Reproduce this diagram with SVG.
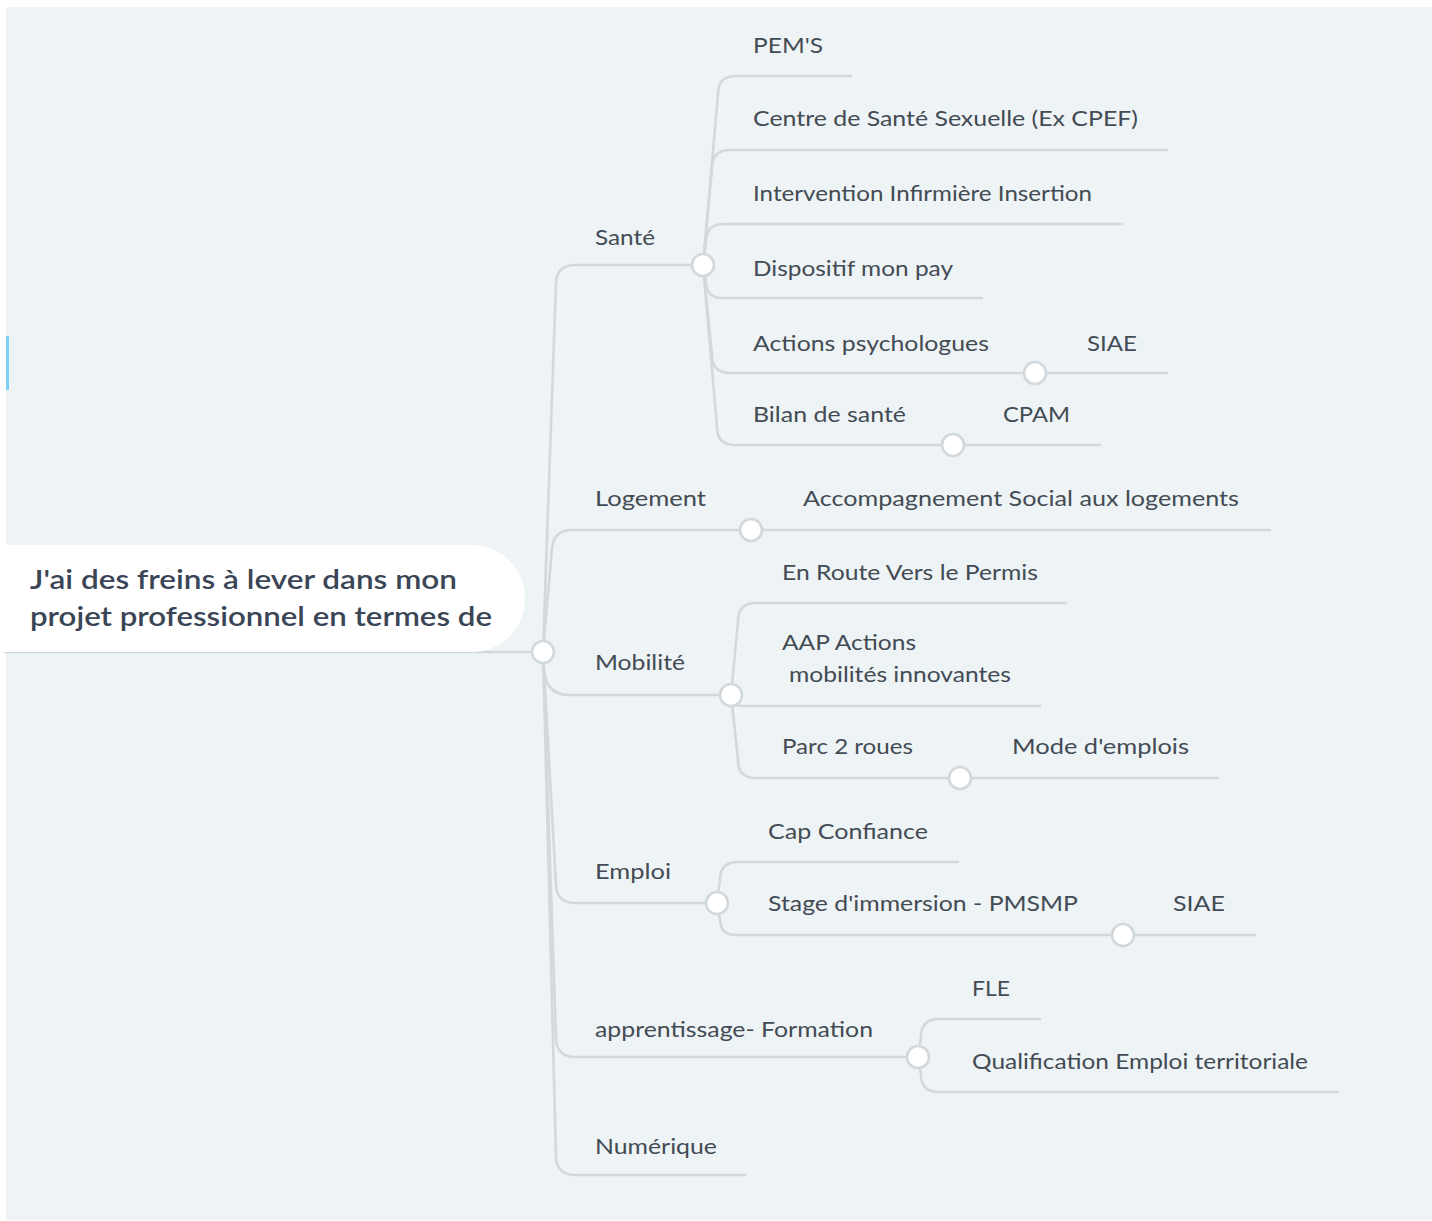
<svg xmlns="http://www.w3.org/2000/svg" width="1432" height="1221" viewBox="0 0 1432 1221">
<style>
.ln{fill:none;stroke:#d3d8dc;stroke-width:2.6;stroke-linecap:round;stroke-linejoin:round}
.dot{fill:#ffffff;stroke:#d3d8dc;stroke-width:2.6}
.t{font-family:Lato,"Open Sans","Liberation Sans",sans-serif;font-size:22px;fill:#434b54}
.root{font-family:Lato,"Open Sans","Liberation Sans",sans-serif;font-size:26px;font-weight:600;fill:#3a4555}
</style>
<rect x="0" y="0" width="1432" height="1221" fill="#ffffff"/>
<rect x="6" y="7" width="1426" height="1213" fill="#eef3f6"/>
<rect x="6" y="336" width="3" height="54" fill="#7fd0f7"/>

<g id="connectors">
  <path class="ln" d="M5 652 L543 652"/>
  <path class="ln" d="M543 652 L556 283 Q557 265 575 265 L703 265"/>
  <path class="ln" d="M543 652 L552 548 Q554 530 572 530 L751 530"/>
  <path class="ln" d="M543 652 C543 682 548 695 570 695 L731 695"/>
  <path class="ln" d="M543 652 L556 885 Q557 903 575 903 L717 903"/>
  <path class="ln" d="M543 652 L556 1039 Q557 1057 575 1057 L918 1057"/>
  <path class="ln" d="M543 652 L556 1157 Q557 1175 575 1175 L745 1175"/>

  <path class="ln" d="M703 265 L718 94 Q718 76 736 76 L851 76"/>
  <path class="ln" d="M703 265 L712 168 Q712 150 730 150 L1167 150"/>
  <path class="ln" d="M703 265 L706 242 Q706 224 724 224 L1122 224"/>
  <path class="ln" d="M703 265 L706 281.5 Q706 298 722 298 L982 298"/>
  <path class="ln" d="M703 265 L712 355 Q712 373 730 373 L1035 373"/>
  <path class="ln" d="M703 265 L717 427 Q717 445 735 445 L953 445"/>
  <path class="ln" d="M1035 373 L1167 373"/>
  <path class="ln" d="M953 445 L1100 445"/>

  <path class="ln" d="M751 530 L1270 530"/>

  <path class="ln" d="M731 695 L738 621 Q738 603 756 603 L1066 603"/>
  <path class="ln" d="M731 695 C731 702 735 706 742 706 L1040 706"/>
  <path class="ln" d="M731 695 L738 760 Q738 778 756 778 L960 778"/>
  <path class="ln" d="M960 778 L1218 778"/>

  <path class="ln" d="M717 903 L720 880 Q720 862 738 862 L958 862"/>
  <path class="ln" d="M717 903 L720 919 Q720 935 736 935 L1123 935"/>
  <path class="ln" d="M1123 935 L1255 935"/>

  <path class="ln" d="M918 1057 L921 1037 Q921 1019 939 1019 L1040 1019"/>
  <path class="ln" d="M918 1057 L921 1074.5 Q921 1092 938.5 1092 L1338 1092"/>
</g>

<g id="root">
  <rect x="-60" y="545" width="585" height="107" rx="53" fill="#ffffff"/>
  <text class="root" x="30" y="589" textLength="427" lengthAdjust="spacingAndGlyphs">J'ai des freins à lever dans mon</text>
  <text class="root" x="30" y="626" textLength="462" lengthAdjust="spacingAndGlyphs">projet professionnel en termes de</text>
  <circle class="dot" cx="543" cy="652" r="11"/>
</g>

<g id="sante">
  <text class="t" x="595" y="245" textLength="60" lengthAdjust="spacingAndGlyphs">Santé</text>
  <circle class="dot" cx="703" cy="265" r="11"/>
</g>
<g id="pems"><text class="t" x="753" y="53" textLength="70" lengthAdjust="spacingAndGlyphs">PEM'S</text></g>
<g id="centre-sante"><text class="t" x="753" y="126" textLength="385" lengthAdjust="spacingAndGlyphs">Centre de Santé Sexuelle (Ex CPEF)</text></g>
<g id="intervention"><text class="t" x="753" y="201" textLength="339" lengthAdjust="spacingAndGlyphs">Intervention Infirmière Insertion</text></g>
<g id="dispositif"><text class="t" x="753" y="276" textLength="200" lengthAdjust="spacingAndGlyphs">Dispositif mon pay</text></g>
<g id="actions-psy">
  <text class="t" x="753" y="351" textLength="236" lengthAdjust="spacingAndGlyphs">Actions psychologues</text>
  <circle class="dot" cx="1035" cy="373" r="11"/>
</g>
<g id="siae-1"><text class="t" x="1087" y="351" textLength="50" lengthAdjust="spacingAndGlyphs">SIAE</text></g>
<g id="bilan">
  <text class="t" x="753" y="422" textLength="153" lengthAdjust="spacingAndGlyphs">Bilan de santé</text>
  <circle class="dot" cx="953" cy="445" r="11"/>
</g>
<g id="cpam"><text class="t" x="1003" y="422" textLength="67" lengthAdjust="spacingAndGlyphs">CPAM</text></g>

<g id="logement">
  <text class="t" x="595" y="506" textLength="111" lengthAdjust="spacingAndGlyphs">Logement</text>
  <circle class="dot" cx="751" cy="530" r="11"/>
</g>
<g id="accompagnement"><text class="t" x="803" y="506" textLength="436" lengthAdjust="spacingAndGlyphs">Accompagnement Social aux logements</text></g>

<g id="mobilite">
  <text class="t" x="595" y="670" textLength="90" lengthAdjust="spacingAndGlyphs">Mobilité</text>
  <circle class="dot" cx="731" cy="695" r="11"/>
</g>
<g id="en-route"><text class="t" x="782" y="580" textLength="256" lengthAdjust="spacingAndGlyphs">En Route Vers le Permis</text></g>
<g id="aap">
  <text class="t" x="782" y="650" textLength="134" lengthAdjust="spacingAndGlyphs">AAP Actions</text>
  <text class="t" x="789" y="682" textLength="222" lengthAdjust="spacingAndGlyphs">mobilités innovantes</text>
</g>
<g id="parc">
  <text class="t" x="782" y="754" textLength="131" lengthAdjust="spacingAndGlyphs">Parc 2 roues</text>
  <circle class="dot" cx="960" cy="778" r="11"/>
</g>
<g id="mode-emplois"><text class="t" x="1012" y="754" textLength="177" lengthAdjust="spacingAndGlyphs">Mode d'emplois</text></g>

<g id="emploi">
  <text class="t" x="595" y="879" textLength="76" lengthAdjust="spacingAndGlyphs">Emploi</text>
  <circle class="dot" cx="717" cy="903" r="11"/>
</g>
<g id="cap-confiance"><text class="t" x="768" y="839" textLength="160" lengthAdjust="spacingAndGlyphs">Cap Confiance</text></g>
<g id="stage">
  <text class="t" x="768" y="911" textLength="310" lengthAdjust="spacingAndGlyphs">Stage d'immersion - PMSMP</text>
  <circle class="dot" cx="1123" cy="935" r="11"/>
</g>
<g id="siae-2"><text class="t" x="1173" y="911" textLength="52" lengthAdjust="spacingAndGlyphs">SIAE</text></g>

<g id="apprentissage">
  <text class="t" x="595" y="1037" textLength="278" lengthAdjust="spacingAndGlyphs">apprentissage- Formation</text>
  <circle class="dot" cx="918" cy="1057" r="11"/>
</g>
<g id="fle"><text class="t" x="972" y="996" textLength="38" lengthAdjust="spacingAndGlyphs">FLE</text></g>
<g id="qualification"><text class="t" x="972" y="1069" textLength="336" lengthAdjust="spacingAndGlyphs">Qualification Emploi territoriale</text></g>

<g id="numerique"><text class="t" x="595" y="1154" textLength="122" lengthAdjust="spacingAndGlyphs">Numérique</text></g>
</svg>
